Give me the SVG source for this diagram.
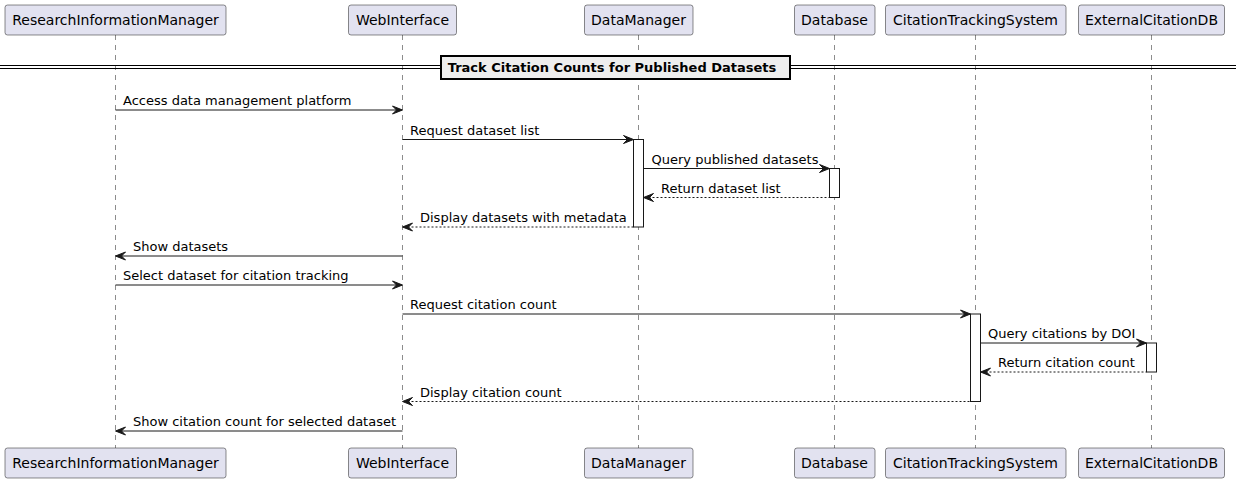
<svg xmlns="http://www.w3.org/2000/svg" width="1236" height="483" viewBox="0 0 1236 483">
<style>
.pbox{fill:#E2E2F0;stroke:#181818;stroke-width:0.5}
.ptxt{font-family:"DejaVu Sans",sans-serif;font-size:14px;fill:#000;text-anchor:middle}
.life{stroke:#181818;stroke-width:0.5;stroke-dasharray:5,5;fill:none}
.act{fill:#FFFFFF;stroke:#181818;stroke-width:1}
.msg{stroke:#181818;stroke-width:1;fill:none}
.ret{stroke:#181818;stroke-width:1;fill:none;stroke-dasharray:2,2}
.head{fill:#181818;stroke:#181818;stroke-width:1}
.mtxt{font-family:"DejaVu Sans",sans-serif;font-size:13px;fill:#000}
.dtxt{font-family:"DejaVu Sans",sans-serif;font-size:13px;font-weight:bold;fill:#000;text-anchor:middle}
</style>
<rect width="1236" height="483" fill="#FFFFFF"/>
<g id="lifelines">
<line class="life" x1="115.5" y1="35" x2="115.5" y2="448"/>
<line class="life" x1="402.5" y1="35" x2="402.5" y2="448"/>
<line class="life" x1="638.5" y1="35" x2="638.5" y2="448"/>
<line class="life" x1="834.5" y1="35" x2="834.5" y2="448"/>
<line class="life" x1="975.5" y1="35" x2="975.5" y2="448"/>
<line class="life" x1="1151.5" y1="35" x2="1151.5" y2="448"/>
</g>
<g id="divider">
<line x1="0" y1="65.5" x2="1236" y2="65.5" stroke="#000" stroke-width="1"/>
<line x1="0" y1="68.5" x2="1236" y2="68.5" stroke="#000" stroke-width="1"/>
<rect x="441" y="56" width="349" height="23" fill="#EEEEEE" stroke="#000" stroke-width="2"/>
<text class="dtxt" x="612" y="72">Track Citation Counts for Published Datasets</text>
</g>
<g id="activations">
<rect class="act" x="633.5" y="139.5" width="10" height="87.5"/>
<rect class="act" x="829.5" y="168.5" width="10" height="29"/>
<rect class="act" x="970.5" y="314" width="10" height="87.5"/>
<rect class="act" x="1146.5" y="343" width="10" height="29"/>
</g>
<g id="participant-ResearchInformationManager">
<rect class="pbox" x="5" y="5" width="221" height="30" rx="2.5"/>
<text class="ptxt" x="115.5" y="24.5">ResearchInformationManager</text>
<rect class="pbox" x="5" y="448" width="221" height="30" rx="2.5"/>
<text class="ptxt" x="115.5" y="467.5">ResearchInformationManager</text>
</g>
<g id="participant-WebInterface">
<rect class="pbox" x="348.5" y="5" width="108" height="30" rx="2.5"/>
<text class="ptxt" x="402.5" y="24.5">WebInterface</text>
<rect class="pbox" x="348.5" y="448" width="108" height="30" rx="2.5"/>
<text class="ptxt" x="402.5" y="467.5">WebInterface</text>
</g>
<g id="participant-DataManager">
<rect class="pbox" x="584.5" y="5" width="108.5" height="30" rx="2.5"/>
<text class="ptxt" x="638.5" y="24.5">DataManager</text>
<rect class="pbox" x="584.5" y="448" width="108.5" height="30" rx="2.5"/>
<text class="ptxt" x="638.5" y="467.5">DataManager</text>
</g>
<g id="participant-Database">
<rect class="pbox" x="794.5" y="5" width="80.5" height="30" rx="2.5"/>
<text class="ptxt" x="834.5" y="24.5">Database</text>
<rect class="pbox" x="794.5" y="448" width="80.5" height="30" rx="2.5"/>
<text class="ptxt" x="834.5" y="467.5">Database</text>
</g>
<g id="participant-CitationTrackingSystem">
<rect class="pbox" x="885.5" y="5" width="180.5" height="30" rx="2.5"/>
<text class="ptxt" x="975.5" y="24.5">CitationTrackingSystem</text>
<rect class="pbox" x="885.5" y="448" width="180.5" height="30" rx="2.5"/>
<text class="ptxt" x="975.5" y="467.5">CitationTrackingSystem</text>
</g>
<g id="participant-ExternalCitationDB">
<rect class="pbox" x="1078.5" y="5" width="146" height="30" rx="2.5"/>
<text class="ptxt" x="1151.5" y="24.5">ExternalCitationDB</text>
<rect class="pbox" x="1078.5" y="448" width="146" height="30" rx="2.5"/>
<text class="ptxt" x="1151.5" y="467.5">ExternalCitationDB</text>
</g>
<g id="connectors">
<!-- 1 -->
<line class="msg" x1="115.5" y1="110" x2="401.5" y2="110"/>
<polygon class="head" points="392.5,106 402.5,110 392.5,114 396.5,110"/>
<text class="mtxt" x="123" y="105">Access data management platform</text>
<!-- 2 -->
<line class="msg" x1="402.5" y1="139.5" x2="632.5" y2="139.5"/>
<polygon class="head" points="623.5,135.5 633.5,139.5 623.5,143.5 627.5,139.5"/>
<text class="mtxt" x="410" y="134.5">Request dataset list</text>
<!-- 3 -->
<line class="msg" x1="643.5" y1="168.5" x2="828.5" y2="168.5"/>
<polygon class="head" points="819.5,164.5 829.5,168.5 819.5,172.5 823.5,168.5"/>
<text class="mtxt" x="651.5" y="163.5">Query published datasets</text>
<!-- 4 -->
<line class="ret" x1="644.5" y1="197.5" x2="829.5" y2="197.5"/>
<polygon class="head" points="653.5,193.5 643.5,197.5 653.5,201.5 649.5,197.5"/>
<text class="mtxt" x="661" y="192.5">Return dataset list</text>
<!-- 5 -->
<line class="ret" x1="403.5" y1="227" x2="633.5" y2="227"/>
<polygon class="head" points="412.5,223 402.5,227 412.5,231 408.5,227"/>
<text class="mtxt" x="420" y="222">Display datasets with metadata</text>
<!-- 6 -->
<line class="msg" x1="116.5" y1="256" x2="402.5" y2="256"/>
<polygon class="head" points="125.5,252 115.5,256 125.5,260 121.5,256"/>
<text class="mtxt" x="133" y="251">Show datasets</text>
<!-- 7 -->
<line class="msg" x1="115.5" y1="285" x2="401.5" y2="285"/>
<polygon class="head" points="392.5,281 402.5,285 392.5,289 396.5,285"/>
<text class="mtxt" x="123" y="280">Select dataset for citation tracking</text>
<!-- 8 -->
<line class="msg" x1="402.5" y1="314" x2="969.5" y2="314"/>
<polygon class="head" points="960.5,310 970.5,314 960.5,318 964.5,314"/>
<text class="mtxt" x="410" y="309">Request citation count</text>
<!-- 9 -->
<line class="msg" x1="980.5" y1="343" x2="1145.5" y2="343"/>
<polygon class="head" points="1136.5,339 1146.5,343 1136.5,347 1140.5,343"/>
<text class="mtxt" x="988" y="338">Query citations by DOI</text>
<!-- 10 -->
<line class="ret" x1="981.5" y1="372" x2="1146.5" y2="372"/>
<polygon class="head" points="990.5,368 980.5,372 990.5,376 986.5,372"/>
<text class="mtxt" x="998" y="367">Return citation count</text>
<!-- 11 -->
<line class="ret" x1="403.5" y1="401.5" x2="970.5" y2="401.5"/>
<polygon class="head" points="412.5,397.5 402.5,401.5 412.5,405.5 408.5,401.5"/>
<text class="mtxt" x="420" y="396.5">Display citation count</text>
<!-- 12 -->
<line class="msg" x1="116.5" y1="431" x2="402.5" y2="431"/>
<polygon class="head" points="125.5,427 115.5,431 125.5,435 121.5,431"/>
<text class="mtxt" x="133" y="426">Show citation count for selected dataset</text>
</g>
</svg>
